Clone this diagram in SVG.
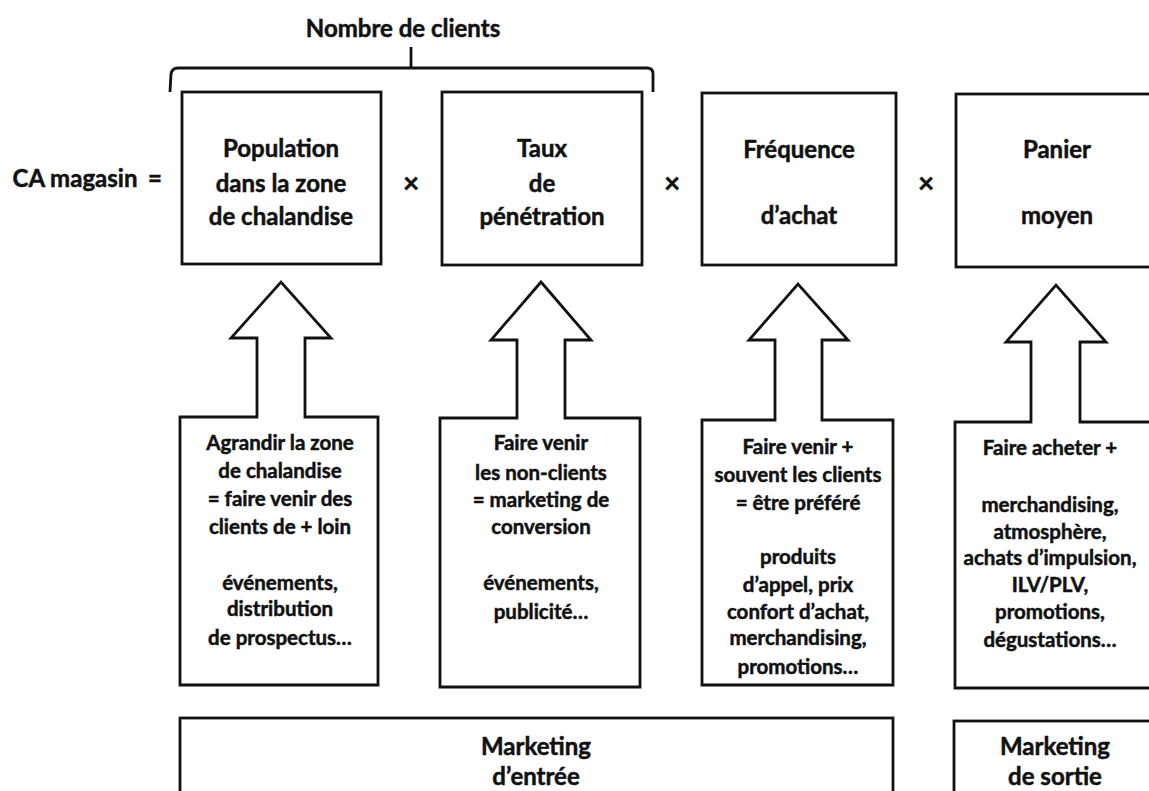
<svg xmlns="http://www.w3.org/2000/svg" width="1149" height="791" viewBox="0 0 1149 791">
<style>
.bx{fill:#fff;stroke:#111;stroke-width:2.8;stroke-linejoin:miter}
.t{font-family:Lato,"Open Sans","Liberation Sans",sans-serif;font-weight:bold;fill:#111;stroke:#111;stroke-width:0.5;text-anchor:middle}
.big{font-size:24px}
.sm{font-size:20.5px}
.op{font-size:28px}
.ln{fill:none;stroke:#111;stroke-width:2.8}
</style>
<rect width="1149" height="791" fill="#fff"/>
<g id="header">
<text class="t big" x="403" y="37">Nombre de clients</text>
<path class="ln" d="M170,92 L171,74 Q172,68 178,68 L647,68 Q653,68 653,74 L653,92"/>
<path class="ln" d="M411,47 L411,68"/>
<text class="t big" x="75" y="187">CA magasin</text>
<text class="t big" x="155" y="187">=</text>
<text class="t op" x="411" y="193">×</text>
<text class="t op" x="672" y="193">×</text>
<text class="t op" x="926" y="193">×</text>
</g>
<g id="population">
<rect class="bx" x="182" y="92" width="199" height="172"/>
<text class="t big" x="281" y="157">Population</text>
<text class="t big" x="281" y="192">dans la zone</text>
<text class="t big" x="281" y="225">de chalandise</text>
</g>
<g id="taux">
<rect class="bx" x="442" y="92" width="200" height="173"/>
<text class="t big" x="542" y="157">Taux</text>
<text class="t big" x="542" y="192">de</text>
<text class="t big" x="542" y="225">pénétration</text>
</g>
<g id="frequence">
<rect class="bx" x="702" y="93" width="194" height="172"/>
<text class="t big" x="799" y="158">Fréquence</text>
<text class="t big" x="799" y="224">d’achat</text>
</g>
<g id="panier">
<rect class="bx" x="956" y="94" width="210" height="173"/>
<text class="t big" x="1057" y="158">Panier</text>
<text class="t big" x="1057" y="224">moyen</text>
</g>
<g id="connectors">
</g>
<g id="levier1">
<path class="bx" d="M180,685 V417 H257 V338 H231 L281,282 L331,338 H305 V417 H378 V685 Z"/>
<text class="t sm" x="280" y="450">Agrandir la zone</text>
<text class="t sm" x="280" y="478">de chalandise</text>
<text class="t sm" x="280" y="506">= faire venir des</text>
<text class="t sm" x="280" y="534">clients de + loin</text>
<text class="t sm" x="280" y="590">événements,</text>
<text class="t sm" x="280" y="616">distribution</text>
<text class="t sm" x="280" y="645">de prospectus…</text>
</g>
<g id="levier2">
<path class="bx" d="M440,687 V418 H517 V340 H491 L541,282 L591,340 H565 V418 H640 V687 Z"/>
<text class="t sm" x="541" y="450">Faire venir</text>
<text class="t sm" x="541" y="480">les non-clients</text>
<text class="t sm" x="541" y="507">= marketing de</text>
<text class="t sm" x="541" y="534">conversion</text>
<text class="t sm" x="541" y="590">événements,</text>
<text class="t sm" x="541" y="619">publicité…</text>
</g>
<g id="levier3">
<path class="bx" d="M702,685 V420 H775 V340 H749 L798,284 L848,340 H822 V420 H893 V685 Z"/>
<text class="t sm" x="798" y="454">Faire venir +</text>
<text class="t sm" x="798" y="482">souvent les clients</text>
<text class="t sm" x="798" y="510">= être préféré</text>
<text class="t sm" x="798" y="564">produits</text>
<text class="t sm" x="798" y="592">d’appel, prix</text>
<text class="t sm" x="798" y="619">confort d’achat,</text>
<text class="t sm" x="798" y="645">merchandising,</text>
<text class="t sm" x="798" y="674">promotions…</text>
</g>
<g id="levier4">
<path class="bx" d="M955,688 V422 H1031 V342 H1006 L1056,285 L1106,342 H1080 V422 H1165 V688 Z"/>
<text class="t sm" x="1050" y="455">Faire acheter +</text>
<text class="t sm" x="1050" y="512">merchandising,</text>
<text class="t sm" x="1050" y="539">atmosphère,</text>
<text class="t sm" x="1050" y="565">achats d’impulsion,</text>
<text class="t sm" x="1050" y="592">ILV/PLV,</text>
<text class="t sm" x="1050" y="619">promotions,</text>
<text class="t sm" x="1050" y="647">dégustations…</text>
</g>
<g id="marketing-entree">
<rect class="bx" x="180" y="718" width="713" height="90"/>
<text class="t big" x="536" y="755">Marketing</text>
<text class="t big" x="536" y="785">d’entrée</text>
</g>
<g id="marketing-sortie">
<rect class="bx" x="954" y="721" width="210" height="90"/>
<text class="t big" x="1055" y="755">Marketing</text>
<text class="t big" x="1055" y="785">de sortie</text>
</g>
</svg>
